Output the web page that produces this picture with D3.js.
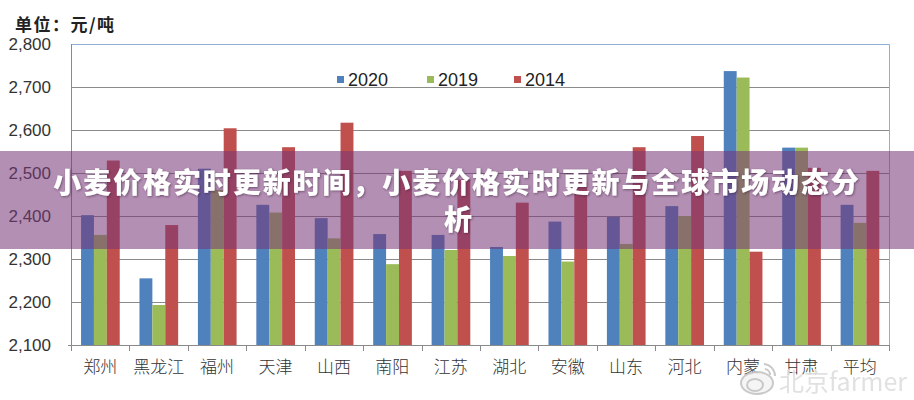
<!DOCTYPE html>
<html>
<head>
<meta charset="utf-8">
<script src="https://cdn.jsdelivr.net/npm/d3@7"></script>
<style>
  html, body { margin: 0; padding: 0; background: #fff; }
  svg { display: block; }
</style>
</head>
<body>
<svg id="chart" width="914" height="400"></svg>
<script>
const categories = ["郑州","黑龙江","福州","天津","山西","南阳","江苏","湖北","安徽","山东","河北","内蒙","甘肃","平均"];
const seriesNames = ["2020","2019","2014"];
const values2020 = [2402,2255,2510,2426,2395,2358,2356,2328,2387,2398,2423,2737,2559,2426];
const values2019 = [2356,2193,2461,2408,2348,2288,2321,2307,2294,2335,2400,2722,2559,2384];
const values2014 = [2529,2379,2604,2560,2617,2505,2485,2431,2480,2560,2586,2317,2512,2505];
const yTickValues = [2100,2200,2300,2400,2500,2600,2700,2800];
const seriesColors = ["#4f81bd","#9bbb59","#c0504d"];
const unitLabel = "单位：元/吨";
const titleLine1 = "小麦价格实时更新时间，小麦价格实时更新与全球市场动态分";
const titleLine2 = "析";
const watermarkText = "北京farmer";

const seriesValues = [values2020, values2019, values2014];
const svg = d3.select("#chart");

const plot = {left: 71, right: 889, top: 44, bottom: 345};
const y = d3.scaleLinear().domain([2100, 2800]).range([plot.bottom, plot.top]);
const x0 = d3.scaleBand().domain(categories).range([plot.left, plot.right]).paddingInner(0).paddingOuter(0);
const bw = x0.bandwidth();
const x1 = d3.scaleBand().domain(seriesNames).range([bw * 0.172, bw * 0.834]).padding(0);

// gridlines
svg.append("g").selectAll("line").data(yTickValues.filter(v => v > 2100 && v < 2800)).join("line")
  .attr("x1", plot.left).attr("x2", plot.right)
  .attr("y1", d => Math.round(y(d)) + 0.5).attr("y2", d => Math.round(y(d)) + 0.5)
  .attr("stroke", "#8a8a8a").attr("stroke-width", 1);

// plot border top/right (light blue)
svg.append("path")
  .attr("d", `M${plot.left},${Math.round(y(2800)) + 0.5}H${plot.right + 0.5}V${plot.bottom}`)
  .attr("fill", "none").attr("stroke", "#8fb0d6").attr("stroke-width", 1);

// bars
const groups = svg.append("g").selectAll("g").data(categories).join("g")
  .attr("transform", d => `translate(${x0(d)},0)`);
groups.selectAll("rect").data((d, i) => seriesNames.map((s, j) => ({s, v: seriesValues[j][i], j})))
  .join("rect")
  .attr("x", d => x1(d.s))
  .attr("width", x1.bandwidth())
  .attr("y", d => y(d.v))
  .attr("height", d => y(2100) - y(d.v))
  .attr("fill", d => seriesColors[d.j]);

// left axis line
svg.append("line").attr("x1", plot.left + 0.5).attr("x2", plot.left + 0.5)
  .attr("y1", plot.top).attr("y2", plot.bottom)
  .attr("stroke", "#8a8a8a");

// x axis
const xAxis = d3.axisBottom(x0).tickSize(0).tickFormat(d => d);
const gx = svg.append("g").attr("transform", `translate(0,${plot.bottom})`).call(xAxis);
gx.select(".domain").remove();
gx.selectAll("text").attr("dy", null).attr("y", 28)
  .style("font-family", "'Noto Sans CJK SC', sans-serif").style("font-size", "17px")
  .style("font-weight", "300").attr("fill", "#333");
svg.append("line").attr("x1", plot.left - 3).attr("x2", plot.right)
  .attr("y1", plot.bottom + 0.5).attr("y2", plot.bottom + 0.5).attr("stroke", "#8a8a8a");
const boundaries = categories.map(c => x0(c)).concat([plot.right]);
svg.append("g").selectAll("line").data(boundaries).join("line")
  .attr("x1", d => Math.round(d) + 0.5).attr("x2", d => Math.round(d) + 0.5)
  .attr("y1", plot.bottom).attr("y2", plot.bottom + 6)
  .attr("stroke", "#8a8a8a");

// y axis labels
const yAxis = d3.axisLeft(y).tickValues(yTickValues).tickSize(0).tickPadding(20).tickFormat(d3.format(","));
const gy = svg.append("g").attr("transform", `translate(${plot.left},0)`).call(yAxis);
gy.select(".domain").remove();
gy.selectAll("text").style("font-family", "'Liberation Sans', Arial, sans-serif")
  .style("font-size", "17px").attr("fill", "#333");

// unit label
svg.append("text").attr("x", 15).attr("y", 31).text(unitLabel)
  .style("font-family", "'Noto Sans CJK SC', sans-serif").style("font-size", "17px")
  .style("letter-spacing", "1.5px")
  .style("font-weight", "bold").attr("fill", "#222");

// legend
const legendX = [337, 427, 514];
const lg = svg.append("g").selectAll("g").data(seriesNames).join("g")
  .attr("transform", (d, i) => `translate(${legendX[i]},0)`);
lg.append("rect").attr("x", 0).attr("y", 76).attr("width", 7).attr("height", 7)
  .attr("fill", (d, i) => seriesColors[i]);
lg.append("text").attr("x", 11).attr("y", 86).text(d => d)
  .style("font-family", "'Liberation Sans', Arial, sans-serif").style("font-size", "18px").attr("fill", "#222");

// watermark
const wm = svg.append("g").attr("opacity", 0.9);
wm.append("ellipse").attr("cx", 757).attr("cy", 383).attr("rx", 16).attr("ry", 11)
  .attr("fill", "#f4f4f4").attr("stroke", "#c4c4c4").attr("stroke-width", 2);
wm.append("ellipse").attr("cx", 755).attr("cy", 385).attr("rx", 8).attr("ry", 6)
  .attr("fill", "none").attr("stroke", "#c4c4c4").attr("stroke-width", 2);
wm.append("path").attr("d", "M764,364 a12,12 0 0 1 11,12").attr("fill", "none").attr("stroke", "#c4c4c4").attr("stroke-width", 2);
wm.append("path").attr("d", "M765,369 a6,6 0 0 1 5,6").attr("fill", "none").attr("stroke", "#c4c4c4").attr("stroke-width", 2);
wm.append("text").attr("x", 779).attr("y", 391).text(watermarkText)
  .style("font-family", "'Noto Sans CJK SC', sans-serif").style("font-size", "25px")
  .attr("fill", "#dedede").attr("stroke", "#fff").attr("stroke-width", 1.2).attr("paint-order", "stroke");

// overlay banner
const defs = svg.append("defs");
const f = defs.append("filter").attr("id", "ts").attr("x", "-10%").attr("y", "-30%").attr("width", "120%").attr("height", "160%");
f.append("feDropShadow").attr("dx", 1).attr("dy", 1).attr("stdDeviation", 1.2).attr("flood-color", "#3a1a3a").attr("flood-opacity", 0.55);
svg.append("rect").attr("x", 0).attr("y", 151).attr("width", 914).attr("height", 98)
  .attr("fill", "rgb(120,56,120)").attr("fill-opacity", 0.56);
const tg = svg.append("g").attr("filter", "url(#ts)")
  .style("font-family", "'Noto Sans CJK SC', sans-serif").style("font-size", "28px").style("font-weight", "900")
  .attr("fill", "#fff").attr("text-anchor", "middle");
tg.append("text").attr("x", 457).attr("y", 193).style("letter-spacing", "1.9px").text(titleLine1);
tg.append("text").attr("x", 458).attr("y", 230).text(titleLine2);
</script>
</body>
</html>
